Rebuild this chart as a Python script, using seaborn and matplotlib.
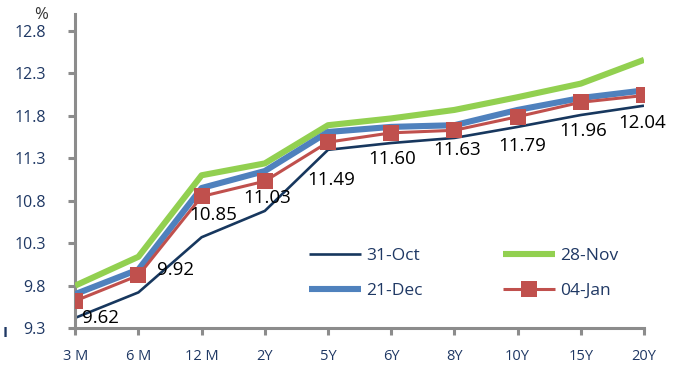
import numpy as np
import pandas as pd
import matplotlib
matplotlib.use('Agg')
from matplotlib import pyplot as plt
import seaborn as sns

sns.set_style('white')
plt.rcParams['font.family'] = ['Open Sans', 'DejaVu Sans']

# yield curve data
tenors = ['3 M', '6 M', '12 M', '2Y', '5Y', '6Y', '8Y', '10Y', '15Y', '20Y']
oct31 = [9.42, 9.72, 10.37, 10.68, 11.40, 11.48, 11.54, 11.67, 11.81, 11.92]
nov28 = [9.80, 10.14, 11.10, 11.24, 11.69, 11.77, 11.87, 12.02, 12.18, 12.46]
dec21 = [9.70, 9.99, 10.95, 11.15, 11.61, 11.67, 11.69, 11.87, 12.01, 12.10]
jan04 = [9.62, 9.92, 10.85, 11.03, 11.49, 11.60, 11.63, 11.79, 11.96, 12.04]
yticks = [9.3, 9.8, 10.3, 10.8, 11.3, 11.8, 12.3, 12.8]

navy = '#1F3864'
grey = '#8C8C8C'

df = pd.DataFrame({'tenor': tenors, '31-Oct': oct31, '28-Nov': nov28,
                   '21-Dec': dec21, '04-Jan': jan04})

fig, ax = plt.subplots(figsize=(6.84, 3.69), dpi=100)
fig.subplots_adjust(left=0.11, right=0.9415, bottom=0.111, top=0.962)

styles = {
    '31-Oct': dict(color='#17375E', linewidth=1.9),
    '28-Nov': dict(color='#92D050', linewidth=4.4),
    '21-Dec': dict(color='#4F81BD', linewidth=4.4),
    '04-Jan': dict(color='#C0504D', linewidth=2.2, marker='s', markersize=11.5,
                   markeredgewidth=0),
}
for i, (name, st) in enumerate(styles.items()):
    sns.lineplot(data=df, x='tenor', y=name, ax=ax, label=name,
                 solid_capstyle='butt', zorder=2 + i, **st)

# data labels for latest curve (offsets in points)
offsets = [(18, -12), (27, 4), (8, -13), (2, -12), (2, -27), (1, -19),
           (2, -14), (3, -21), (2, -21), (-1, -20)]
for i, (v, off) in enumerate(zip(jan04, offsets)):
    ax.annotate(f'{v:.2f}', (i, v), xytext=off, textcoords='offset points',
                ha='center', va='center', fontsize=13.5, color='black', zorder=10)

ax.set_xlim(0, len(tenors) - 1)
ax.set_ylim(9.3, 13.0)
ax.set_yticks(yticks)
ax.set_yticklabels([f'{t:.1f}' for t in yticks])
ax.set_xlabel('')
ax.set_ylabel('')

for s in ['top', 'right']:
    ax.spines[s].set_visible(False)
for s in ['left', 'bottom']:
    ax.spines[s].set_color(grey)
    ax.spines[s].set_linewidth(2.2)
ax.tick_params(axis='both', colors=grey, width=2.2, length=5, direction='out',
               left=True, bottom=True, labelcolor=navy)
ax.tick_params(axis='y', labelsize=11.5, pad=16)
ax.tick_params(axis='x', labelsize=10.5, pad=10)

# row-wise legend: 31-Oct, 28-Nov / 21-Dec, 04-Jan
handles, labels = ax.get_legend_handles_labels()
order = [0, 2, 1, 3]
ax.legend([handles[k] for k in order], [labels[k] for k in order],
          ncol=2, loc='center left', bbox_to_anchor=(0.396, 0.174), frameon=False,
          fontsize=12.5, labelcolor=navy, handlelength=3.0, handletextpad=0.3,
          columnspacing=4.6, labelspacing=1.05, borderpad=0)

fig.text(41 / 684, 1 - 15 / 369, '%', fontsize=12, color='#333333',
         ha='center', va='center')
fig.text(5 / 684, 1 - 333 / 369, 'I', fontsize=11, color=navy,
         ha='center', va='center', fontweight='bold')

fig.savefig('out.png', dpi=100)
